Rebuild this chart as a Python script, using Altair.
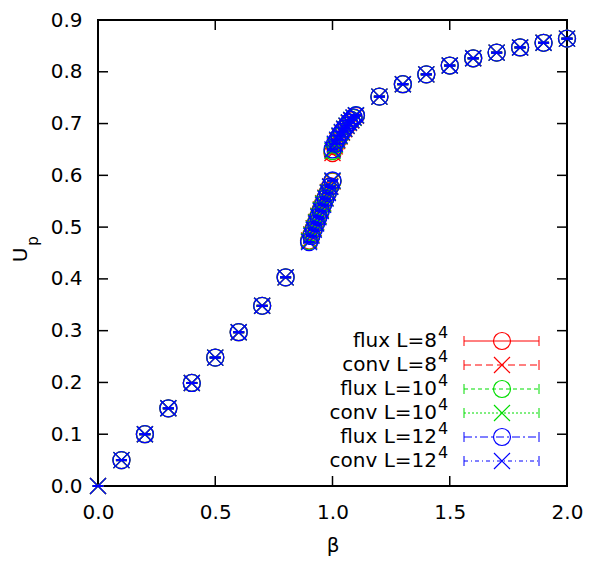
import altair as alt
import pandas as pd

# ---------------- data ----------------
beta_lo = [0.1, 0.2, 0.3, 0.4, 0.5, 0.6, 0.7, 0.8]
up_lo = [0.050, 0.100, 0.150, 0.199, 0.248, 0.297, 0.348, 0.403]

beta_hi = [1.2, 1.3, 1.4, 1.5, 1.6, 1.7, 1.8, 1.9, 2.0]
up_hi = [0.752, 0.776, 0.795, 0.812, 0.826, 0.837, 0.847, 0.856, 0.864]

beta_branch_a = [0.90, 0.91, 0.92, 0.93, 0.94, 0.95, 0.96, 0.97, 0.98, 0.99, 1.00]
up_a_L8 = [0.474, 0.486, 0.498, 0.510, 0.522, 0.534, 0.546, 0.557, 0.568, 0.579, 0.588]
up_a_L10 = [0.473, 0.485, 0.497, 0.509, 0.521, 0.533, 0.545, 0.556, 0.567, 0.578, 0.589]
up_a_L12 = [0.471, 0.483, 0.495, 0.507, 0.519, 0.531, 0.543, 0.555, 0.566, 0.578, 0.590]

beta_branch_b = [1.00, 1.01, 1.02, 1.03, 1.04, 1.05, 1.06, 1.07, 1.08, 1.09, 1.10]
up_b_L8 = [0.643, 0.656, 0.666, 0.675, 0.682, 0.689, 0.695, 0.701, 0.706, 0.711, 0.715]
up_b_L10 = [0.647, 0.659, 0.668, 0.676, 0.683, 0.690, 0.696, 0.702, 0.707, 0.711, 0.716]
up_b_L12 = [0.650, 0.661, 0.669, 0.677, 0.684, 0.690, 0.696, 0.702, 0.707, 0.712, 0.716]

origin_beta = [0.0]
origin_up = [0.0]

x_ticks = [0.0, 0.5, 1.0, 1.5, 2.0]
y_ticks = [0.0, 0.1, 0.2, 0.3, 0.4, 0.5, 0.6, 0.7, 0.8, 0.9]

series_names = ["flux L=8", "conv L=8", "flux L=10", "conv L=10", "flux L=12", "conv L=12"]
series_colors = ["#ff0000", "#ff0000", "#00dd00", "#00dd00", "#0000ff", "#0000ff"]
series_dash = [[1, 0], [7, 4], [4, 3], [2, 2], [8, 3, 2, 3], [4, 3, 1, 3]]

up_a = {8: up_a_L8, 10: up_a_L10, 12: up_a_L12}
up_b = {8: up_b_L8, 10: up_b_L10, 12: up_b_L12}

# ---------------- build tables ----------------
def table(L, conv):
    b = beta_lo + beta_branch_a + beta_branch_b + beta_hi
    u = up_lo + up_a[L] + up_b[L] + up_hi
    if conv:
        b = origin_beta + b
        u = origin_up + u
    return pd.DataFrame({"beta": b, "up": u})

FONT = "DejaVu Sans"
W, H = 469, 466

X = alt.X("beta:Q", scale=alt.Scale(domain=[0, 2], nice=False, zero=False),
          axis=alt.Axis(values=x_ticks, format=".1f", ticks=False, domain=False, grid=False,
                        labelPadding=16, labelFontSize=20, labelFont=FONT, labelColor="black",
                        title="β", titleFontSize=20, titleFont=FONT, titleFontWeight="normal",
                        titleColor="black", titlePadding=13, labelFlush=False),
          title="β")
Y = alt.Y("up:Q", scale=alt.Scale(domain=[0, 0.9], nice=False, zero=False),
          axis=alt.Axis(values=y_ticks, format=".1f", ticks=False, domain=False, grid=False,
                        labelPadding=16, labelFontSize=20, labelFont=FONT, labelColor="black",
                        title=None, labelFlush=False))

CIRCLE = "circle"
XSHAPE = "M-1,-1L1,1M-1,1L1,-1"
DASH = "M-1,0L1,0"

layers = []

# inward ticks (all four sides)
xt = pd.DataFrame({"beta": x_ticks})
yt = pd.DataFrame({"up": y_ticks})
tick_len = 10
layers.append(alt.Chart(xt).mark_rule(color="black", strokeWidth=1.5).encode(
    x=X, y=alt.value(H), y2=alt.value(H - tick_len)))
layers.append(alt.Chart(xt).mark_rule(color="black", strokeWidth=1.5).encode(
    x=X, y=alt.value(0), y2=alt.value(tick_len)))
layers.append(alt.Chart(yt).mark_rule(color="black", strokeWidth=1.5).encode(
    y=Y, x=alt.value(0), x2=alt.value(tick_len)))
layers.append(alt.Chart(yt).mark_rule(color="black", strokeWidth=1.5).encode(
    y=Y, x=alt.value(W), x2=alt.value(W - tick_len)))

# data series in gnuplot order
for i, L in enumerate([8, 8, 10, 10, 12, 12]):
    conv = (i % 2 == 1)
    df = table(L, conv)
    col = series_colors[i]
    shape = XSHAPE if conv else CIRCLE
    size = 256 if conv else 289
    layers.append(alt.Chart(df).mark_point(shape=shape, size=size, filled=False, color=col,
                                           strokeWidth=1.3, opacity=1, clip=False).encode(x=X, y=Y))
    layers.append(alt.Chart(df).mark_point(shape=DASH, size=121, filled=False, color=col,
                                           strokeWidth=2, opacity=1, clip=False).encode(x=X, y=Y))

# legend (drawn manually, gnuplot style)
one = pd.DataFrame({"k": [0]})
row_y = [321, 345, 369, 393, 417, 441]
text_x = 339
line_x0, line_x1, sym_x = 366, 441, 404
for i, name in enumerate(series_names):
    ry = row_y[i]
    col = series_colors[i]
    base, sup = name, "4"
    layers.append(alt.Chart(one).mark_text(align="right", baseline="middle", fontSize=20,
                                           font=FONT, color="black").encode(
        x=alt.value(text_x), y=alt.value(ry), text=alt.value(base)))
    layers.append(alt.Chart(one).mark_text(align="left", baseline="middle", fontSize=16,
                                           font=FONT, color="black").encode(
        x=alt.value(text_x + 1), y=alt.value(ry - 8), text=alt.value(sup)))
    layers.append(alt.Chart(one).mark_rule(color=col, strokeWidth=1, strokeDash=series_dash[i]).encode(
        x=alt.value(line_x0), x2=alt.value(line_x1), y=alt.value(ry)))
    for cx in (line_x0, line_x1):
        layers.append(alt.Chart(one).mark_rule(color=col, strokeWidth=1).encode(
            x=alt.value(cx), y=alt.value(ry - 5), y2=alt.value(ry + 5)))
    conv = (i % 2 == 1)
    layers.append(alt.Chart(one).mark_point(shape=XSHAPE if conv else CIRCLE,
                                            size=256 if conv else 289, filled=False,
                                            color=col, strokeWidth=1.2, opacity=1).encode(
        x=alt.value(sym_x), y=alt.value(ry)))

# y-axis title U_p
layers.append(alt.Chart(one).mark_text(angle=270, align="center", baseline="middle", fontSize=20,
                                       font=FONT, color="black").encode(
    x=alt.value(-77), y=alt.value(235), text=alt.value("U")))
layers.append(alt.Chart(one).mark_text(angle=270, align="center", baseline="middle", fontSize=15,
                                       font=FONT, color="black").encode(
    x=alt.value(-65), y=alt.value(221), text=alt.value("p")))

chart = alt.layer(*layers).properties(
    width=W, height=H,
    autosize=alt.AutoSizeParams(type="none"),
    padding={"left": 90, "top": 12, "right": 16, "bottom": 70},
    background="white",
).configure_view(stroke="black", strokeWidth=2)

chart.save("out.html", embed_options={"renderer": "svg", "actions": False})
